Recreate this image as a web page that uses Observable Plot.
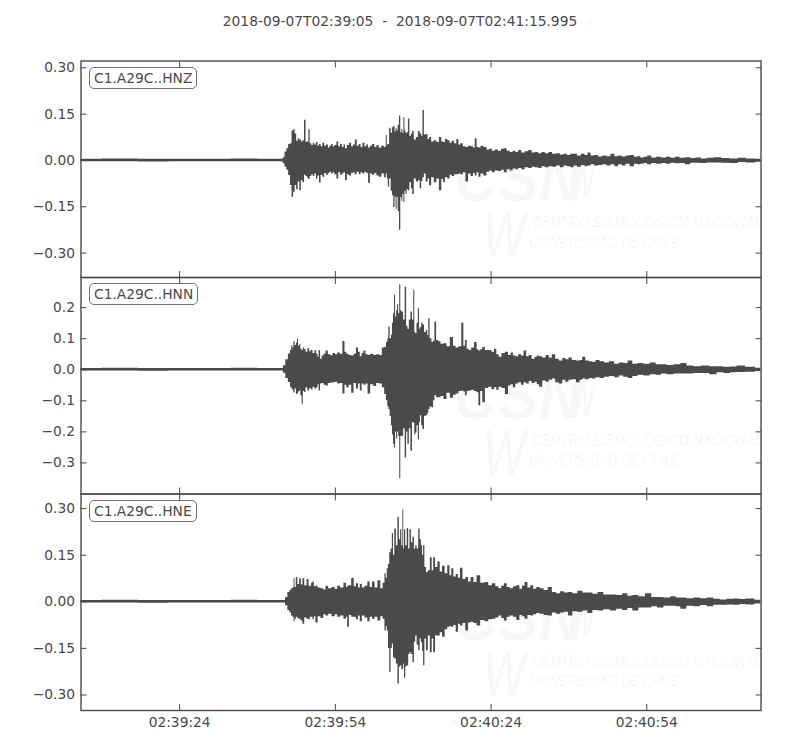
<!DOCTYPE html>
<html><head><meta charset="utf-8">
<script src="https://cdn.jsdelivr.net/npm/d3@7"></script>
<script src="https://cdn.jsdelivr.net/npm/@observablehq/plot@0.6"></script>
<style>
html,body{margin:0;padding:0;background:#fff}
#page{position:relative;width:800px;height:750px;overflow:hidden;font-family:"DejaVu Sans";color:#4a4a4a}
#page svg{position:absolute;left:0;background:transparent;z-index:2;font-family:"DejaVu Sans"}
.title{position:absolute;top:13px;left:0;width:800px;text-align:center;font-size:13.8px;white-space:pre}
.tag{position:absolute;left:89px;z-index:3;background:#fff;border:1px solid #6f6f6f;border-radius:5px;font-size:13.8px;line-height:20px;padding:0 4px;height:20px;white-space:nowrap}
.wm{position:absolute;z-index:1;color:#f8f8f8;font-style:italic;white-space:nowrap;font-family:"Liberation Sans";line-height:.8}
</style></head><body><div id="page"></div>
<script>
const startTime = "2018-09-07T02:39:05";
const endTime = "2018-09-07T02:41:15.995";
const timeTicks = ["2018-09-07T02:39:24Z","2018-09-07T02:39:54Z","2018-09-07T02:40:24Z","2018-09-07T02:40:54Z"];
const channels = ["C1.A29C..HNZ","C1.A29C..HNN","C1.A29C..HNE"];
const hnzTicks = [-0.30,-0.15,0,0.15,0.30];
const hnnTicks = [-0.3,-0.2,-0.1,0,0.1,0.2];
const hneTicks = [-0.30,-0.15,0,0.15,0.30];
const hnzDomain = [-0.379,0.322];
const hnnDomain = [-0.400,0.297];
const hneDomain = [-0.350,0.347];
// [seconds after start, upper envelope, lower envelope] in thousandths
const quiet = [[0,4,-4],[8,5,-4],[14,4,-5],[20,4,-4],[26,4,-4],[32,5,-4],[36,4,-4]];
const hnzWave = [[38.8,4,-4],[39.1,9,-11],[39.5,27,-22],[39.8,38,-32],[40.2,52,-49],[40.5,54,-81],[40.8,95,-119],[41.1,99,-103],[41.4,86,-81],[41.7,62,-95],[42.0,70,-70],[42.3,66,-98],[42.6,60,-66],[42.9,64,-72],[43.2,130,-48],[43.5,59,-52],[43.8,60,-58],[44.0,99,-62],[44.3,54,-52],[44.6,48,-46],[44.9,56,-52],[45.2,50,-44],[45.5,58,-60],[45.8,47,-50],[46.1,52,-73],[46.4,44,-48],[46.8,56,-54],[47.1,46,-42],[47.5,50,-48],[47.8,40,-42],[48.1,46,-38],[48.4,52,-44],[48.7,44,-40],[49.1,48,-46],[49.5,60,-60],[49.8,44,-40],[50.2,52,-48],[50.5,42,-44],[50.8,50,-40],[51.1,38,-66],[51.5,48,-46],[51.9,56,-50],[52.3,44,-42],[52.7,50,-40],[53.0,66,-46],[53.4,46,-38],[53.8,52,-46],[54.1,42,-40],[54.5,56,-44],[54.9,44,-38],[55.2,50,-42],[55.6,40,-74],[55.9,46,-44],[56.4,52,-48],[56.8,42,-42],[57.2,48,-50],[57.7,40,-54],[58.2,46,-44],[58.7,42,-56],[58.9,81,-44],[59.1,50,-60],[59.3,52,-86],[59.6,104,-60],[59.9,88,-100],[60.1,106,-114],[60.4,110,-152],[60.6,92,-118],[60.8,104,-158],[61.0,96,-120],[61.2,114,-165],[61.5,144,-226],[61.7,90,-120],[61.9,100,-132],[62.1,88,-110],[62.3,138,-136],[62.5,96,-100],[62.7,88,-110],[62.95,90,-95],[63.2,134,-98],[63.5,78,-72],[63.8,86,-92],[64.0,94,-110],[64.4,66,-60],[64.8,74,-70],[65.2,94,-66],[65.5,86,-92],[65.75,78,-68],[66.0,162,-56],[66.3,82,-44],[66.7,84,-70],[67.0,68,-60],[67.3,74,-82],[67.8,60,-56],[68.3,64,-72],[68.8,58,-60],[69.3,74,-98],[69.7,60,-62],[70.0,58,-72],[70.4,68,-56],[70.9,64,-60],[71.3,56,-48],[71.7,62,-52],[72.2,54,-46],[72.6,68,-46],[73.0,50,-44],[73.4,54,-46],[73.9,44,-40],[74.4,42,-70],[74.9,46,-44],[75.4,44,-52],[75.8,40,-42],[76.1,70,-50],[76.5,42,-40],[76.8,40,-54],[77.3,46,-44],[77.9,42,-50],[78.5,34,-38],[79.0,36,-34],[79.5,30,-40],[80.1,34,-34],[80.7,30,-36],[81.3,36,-32],[81.8,38,-40],[82.4,30,-30],[83.0,26,-34],[83.5,30,-28],[84.0,26,-30],[84.6,32,-26],[85.2,24,-30],[85.9,28,-24],[86.6,32,-26],[87.2,24,-22],[87.8,26,-24],[88.5,22,-26],[89.1,26,-20],[89.8,22,-24],[90.5,26,-20],[91.2,20,-22],[92.0,22,-18],[92.7,18,-24],[93.4,20,-18],[94.0,16,-20],[94.7,20,-24],[95.3,20,-18],[96.0,14,-22],[96.8,20,-16],[97.4,16,-20],[97.9,24,-18],[98.6,14,-14],[99.3,16,-18],[100.1,11,-16],[100.9,14,-14],[101.7,12,-18],[102.5,20,-14],[103.2,12,-20],[103.9,14,-14],[104.6,11,-18],[105.4,14,-12],[106.2,16,-20],[107.0,10,-12],[107.6,12,-14],[108.1,8,-12],[108.8,10,-10],[109.5,14,-14],[110.4,8,-10],[111.4,10,-12],[112.3,8,-10],[113.2,10,-12],[114.1,7,-9],[114.9,10,-11],[115.9,7,-10],[116.9,9,-14],[118,6,-9],[119,8,-9],[120,5,-10],[121.3,7,-8],[122.6,9,-8],[124.2,6,-9],[125.8,5,-10],[127.4,7,-7],[129,5,-8],[131,4,-6]];
const hnnWave = [[38.8,4,-4],[39.2,13,-11],[39.7,32,-28],[40.2,51,-41],[40.5,62,-56],[40.7,77,-62],[40.9,70,-66],[41.1,90,-75],[41.4,78,-62],[41.6,86,-80],[41.8,99,-78],[42.0,76,-72],[42.2,80,-68],[42.5,66,-84],[42.7,61,-111],[42.95,70,-70],[43.2,65,-73],[43.5,56,-58],[43.9,68,-68],[44.2,58,-60],[44.5,62,-64],[44.9,52,-56],[45.2,60,-62],[45.6,50,-58],[45.75,40,-48],[46.0,62,-68],[46.3,34,-46],[46.6,44,-44],[47.0,50,-50],[47.4,60,-52],[47.9,48,-44],[48.3,45,-43],[48.8,52,-42],[49.2,48,-40],[49.7,54,-46],[50.2,50,-44],[50.7,91,-78],[51.0,56,-50],[51.4,50,-58],[51.9,46,-50],[52.4,44,-76],[52.8,50,-44],[53.3,70,-62],[53.6,56,-46],[54.0,42,-68],[54.3,52,-46],[54.7,60,-50],[55.1,48,-46],[55.5,46,-78],[56.1,50,-48],[56.7,46,-54],[57.2,48,-44],[57.8,46,-46],[58.3,70,-58],[58.7,72,-80],[59.0,88,-100],[59.2,100,-118],[59.4,138,-128],[59.7,100,-150],[59.9,112,-180],[60.1,150,-210],[60.3,180,-240],[60.5,240,-252],[60.7,170,-200],[60.9,190,-224],[61.1,210,-200],[61.3,180,-215],[61.5,274,-350],[61.7,190,-215],[62.0,185,-214],[62.3,160,-190],[62.6,266,-284],[62.85,140,-200],[63.1,130,-240],[63.4,160,-190],[63.7,186,-262],[64.0,160,-170],[64.2,256,-172],[64.4,120,-210],[64.6,116,-204],[64.85,150,-180],[65.1,196,-225],[65.3,130,-170],[65.5,136,-148],[65.75,150,-180],[66.0,144,-192],[66.35,120,-150],[66.7,126,-148],[66.9,110,-140],[67.1,164,-128],[67.4,100,-120],[67.8,88,-122],[68.05,92,-100],[68.3,154,-84],[68.7,94,-90],[69.1,90,-90],[69.6,82,-86],[70.2,84,-96],[70.8,74,-76],[71.5,104,-92],[72.0,76,-82],[72.5,70,-78],[73.1,74,-70],[73.6,150,-68],[73.9,76,-72],[74.2,94,-84],[74.6,66,-70],[75.0,62,-68],[75.5,70,-66],[76.1,88,-70],[76.5,64,-74],[76.8,60,-116],[77.2,64,-70],[77.6,72,-106],[78.2,62,-60],[78.9,62,-56],[79.4,56,-64],[79.9,66,-58],[80.3,48,-66],[80.8,40,-56],[81.4,52,-60],[82.1,56,-80],[82.6,46,-52],[83.1,54,-48],[83.5,44,-58],[84.0,42,-46],[84.6,48,-42],[85.1,44,-50],[85.6,60,-42],[86.1,42,-46],[86.6,46,-38],[87.2,34,-44],[87.7,40,-40],[88.1,44,-48],[88.6,42,-56],[89.3,38,-36],[89.9,46,-40],[90.5,38,-34],[91.1,48,-30],[91.8,34,-42],[92.5,28,-46],[93.1,36,-34],[93.7,32,-40],[94.3,38,-34],[95.0,30,-32],[95.9,28,-42],[96.4,30,-34],[96.9,40,-30],[97.6,28,-32],[98.2,26,-28],[98.8,24,-30],[99.6,30,-26],[100.4,26,-28],[101.3,22,-24],[102.3,26,-22],[103.3,18,-26],[104.1,22,-20],[105.0,20,-24],[105.8,28,-28],[106.8,18,-22],[107.8,20,-18],[109,18,-20],[110.3,22,-16],[111.3,16,-18],[112.3,16,-14],[113.5,14,-16],[115,16,-14],[116.1,20,-14],[117.4,12,-14],[118.7,10,-12],[120.3,12,-12],[121.9,10,-16],[123.2,10,-10],[124.5,8,-12],[125.8,9,-10],[127,12,-9],[129,8,-8],[130.9,5,-6]];
const hneWave = [[39.2,4,-4],[39.6,14,-13],[40.1,30,-29],[40.4,36,-36],[40.7,42,-46],[41.0,44,-50],[41.1,76,-64],[41.35,46,-56],[41.6,78,-50],[41.95,56,-54],[42.3,74,-58],[42.6,54,-62],[42.9,74,-72],[43.3,52,-52],[43.8,72,-56],[44.05,50,-58],[44.3,50,-50],[44.55,60,-50],[44.8,64,-58],[45.1,48,-48],[45.4,50,-68],[45.95,44,-48],[46.5,42,-54],[47.0,38,-42],[47.4,50,-46],[48.0,42,-40],[48.7,46,-48],[49.2,40,-42],[49.7,50,-50],[50.3,44,-46],[51.0,60,-56],[51.25,46,-50],[51.5,50,-82],[51.9,52,-44],[52.4,76,-50],[52.85,48,-50],[53.3,58,-58],[53.6,44,-46],[54.0,56,-64],[54.4,44,-46],[55.0,50,-52],[55.5,64,-64],[55.9,46,-50],[56.4,64,-56],[56.9,44,-50],[57.5,68,-62],[58.0,42,-48],[58.4,60,-56],[58.7,90,-94],[58.9,76,-80],[59.1,106,-94],[59.35,120,-150],[59.6,158,-228],[59.85,170,-150],[60.1,220,-136],[60.3,150,-180],[60.6,234,-184],[60.9,180,-200],[61.2,272,-265],[61.45,200,-210],[61.7,232,-206],[61.9,180,-220],[62.1,296,-216],[62.25,170,-200],[62.4,232,-246],[62.7,180,-210],[63.0,236,-206],[63.25,170,-170],[63.5,232,-164],[63.8,190,-170],[64.1,208,-196],[64.35,170,-130],[64.6,180,-110],[64.9,170,-140],[65.2,234,-158],[65.45,200,-120],[65.7,180,-132],[65.9,150,-160],[66.1,180,-206],[66.4,110,-120],[66.7,94,-158],[67.1,100,-110],[67.5,142,-164],[67.8,100,-120],[68.1,142,-164],[68.5,110,-110],[69.0,128,-110],[69.4,96,-100],[69.9,114,-114],[70.4,90,-90],[70.9,116,-82],[71.25,84,-80],[71.6,106,-82],[72.05,80,-76],[72.5,88,-98],[72.9,76,-72],[73.3,108,-78],[73.85,72,-70],[74.4,78,-94],[74.9,64,-68],[75.4,78,-66],[76.0,62,-70],[76.6,84,-78],[77.4,60,-60],[78.2,62,-64],[78.9,52,-58],[79.6,58,-56],[80.2,48,-52],[80.8,42,-46],[81.3,50,-54],[81.8,58,-62],[82.4,46,-50],[83.0,42,-46],[83.6,48,-50],[84.3,52,-60],[84.8,40,-44],[85.3,50,-48],[85.8,62,-56],[86.4,44,-44],[86.9,52,-46],[87.5,40,-42],[88.1,46,-38],[88.8,42,-40],[89.6,36,-44],[90.4,46,-46],[91.2,30,-36],[92.0,26,-40],[92.8,32,-36],[93.5,28,-34],[94.3,30,-46],[95.2,26,-32],[96.2,34,-34],[97.2,28,-30],[98.1,28,-38],[99.1,24,-28],[100.1,30,-30],[101.3,22,-26],[102.6,22,-30],[103.8,20,-24],[104.9,26,-28],[105.8,18,-22],[106.8,20,-30],[108.1,16,-20],[109.4,26,-20],[110.5,14,-16],[111.6,14,-20],[113,12,-14],[114.2,16,-14],[115.1,12,-16],[116,12,-24],[117.4,10,-14],[118.7,12,-16],[120,10,-12],[121.3,12,-16],[122.5,8,-11],[123.8,6,-11],[125.1,8,-10],[126.4,9,-11],[127.5,7,-9],[128.7,9,-10],[130.9,5,-7]];

const t0 = Date.parse(startTime + "Z");
const ink = "#4a4a4a";
const page = document.getElementById("page");

const title = document.createElement("div");
title.className = "title";
title.textContent = startTime + "  -  " + endTime;
page.appendChild(title);

const rows = w => quiet.concat(w).map(([t,u,l]) => ({time:new Date(t0+t*1000), up:u/1000, low:l/1000}));
const tickDates = timeTicks.map(d => new Date(d));

function panel(cfg){
  const data = rows(cfg.wave);
  const chart = Plot.plot({
    width:800, height:cfg.height,
    marginLeft:80.5, marginRight:39.5, marginTop:cfg.mt, marginBottom:cfg.mb,
    style:{background:"transparent",fontFamily:"DejaVu Sans",fontSize:"13.8px",color:ink},
    x:{type:"utc",domain:[new Date(t0),new Date(Date.parse(endTime+"Z"))]},
    y:{domain:cfg.domain},
    marks:[
      Plot.areaY(data,{x:"time",y1:"low",y2:"up",fill:ink,curve:"step"}),
      Plot.axisY({anchor:"left",ticks:cfg.ticks,tickSize:-6,tickPadding:12,label:null,tickFormat:cfg.fmt,stroke:ink,fill:ink,fontSize:13.8}),
      Plot.axisY({anchor:"right",ticks:cfg.ticks,tickSize:-6,label:null,stroke:ink,fill:"none"}),
      Plot.axisX({anchor:"top",ticks:tickDates,tickSize:-6,label:null,stroke:ink,fill:"none"}),
      cfg.labels
        ? Plot.axisX({anchor:"bottom",ticks:tickDates,tickSize:-6,tickPadding:13,label:null,tickFormat:d3.utcFormat("%H:%M:%S"),stroke:ink,fill:ink,fontSize:13.8})
        : Plot.axisX({anchor:"bottom",ticks:tickDates,tickSize:-6,label:null,stroke:ink,fill:"none"}),
      Plot.frame({stroke:ink,strokeWidth:1.4})
    ]
  });
  chart.style.top = cfg.top+"px";
  page.appendChild(chart);

  const tag = document.createElement("div");
  tag.className = "tag"; tag.textContent = cfg.name; tag.style.top = cfg.tagTop+"px";
  page.appendChild(tag);

  const w = (text,left,top,size,extra) => {
    const s = document.createElement("div");
    s.className = "wm"; s.textContent = text;
    s.style.left = left+"px"; s.style.top = (cfg.wmTop+top)+"px"; s.style.fontSize = size+"px";
    if(extra) Object.assign(s.style,extra);
    page.appendChild(s);
  };
  w("CSN",454,4,64,{fontWeight:"bold",transform:"scaleX(.95)",transformOrigin:"left"});
  w("W",570,14,46,{transform:"scaleX(.55)",transformOrigin:"left"});
  w("W",483,60,64,{transform:"scaleX(.7)",transformOrigin:"left"});
  w("CENTRO SISMOLÓGICO NACIONAL",532,66,17,{transform:"scaleX(.795)",transformOrigin:"left"});
  w("UNIVERSIDAD DE CHILE",529,86,17,{transform:"scaleX(.76)",transformOrigin:"left"});
}
const f2 = d3.format(".2f"), f1 = d3.format(".1f");
panel({name:channels[0],wave:hnzWave,domain:hnzDomain,ticks:hnzTicks,fmt:f2,top:50,height:237,mt:10.5,mb:10,tagTop:67,wmTop:150,labels:false});
panel({name:channels[1],wave:hnnWave,domain:hnnDomain,ticks:hnnTicks,fmt:f1,top:267,height:236.5,mt:10,mb:10,tagTop:283,wmTop:368,labels:false});
panel({name:channels[2],wave:hneWave,domain:hneDomain,ticks:hneTicks,fmt:f2,top:483,height:260,mt:10.5,mb:33,tagTop:500,wmTop:589,labels:true});
</script></body></html>
